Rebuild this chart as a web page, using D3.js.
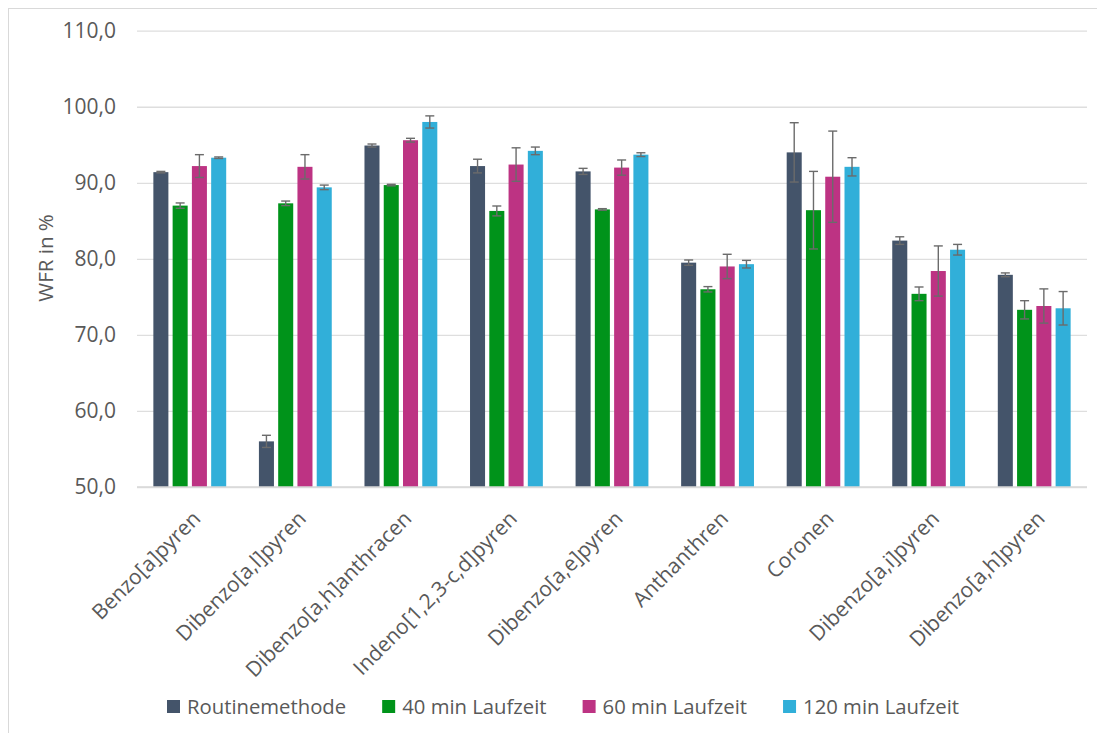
<!DOCTYPE html>
<html>
<head>
<meta charset="utf-8">
<script src="https://cdn.jsdelivr.net/npm/d3@7/dist/d3.min.js"></script>
<style>
  html, body { margin: 0; padding: 0; background: #fff; }
  svg { display: block; }
  text { font-family: "Open Sans", "Noto Sans", sans-serif; fill: #595959; }
</style>
</head>
<body>
<svg id="chart" width="1097" height="733"></svg>
<script>
// PAH recovery rates (WFR) per method, with standard deviations
const categories = [
  "Benzo[a]pyren", "Dibenzo[a,l]pyren", "Dibenzo[a,h]anthracen",
  "Indeno[1,2,3-c,d]pyren", "Dibenzo[a,e]pyren", "Anthanthren",
  "Coronen", "Dibenzo[a,i]pyren", "Dibenzo[a,h]pyren"
];
const seriesNames = ["Routinemethode", "40 min Laufzeit", "60 min Laufzeit", "120 min Laufzeit"];
const seriesColors = ["#44546a", "#00931a", "#bd3383", "#31afd9"];

const routine    = [91.4, 56.0, 94.9, 92.2, 91.5, 79.5, 94.0, 82.4, 77.9];
const routineErr = [0.1, 0.8, 0.2, 0.9, 0.4, 0.35, 3.9, 0.5, 0.25];
const min40      = [87.0, 87.3, 89.7, 86.3, 86.5, 76.0, 86.4, 75.4, 73.3];
const min40Err   = [0.35, 0.3, 0.1, 0.65, 0.1, 0.35, 5.1, 0.9, 1.2];
const min60      = [92.2, 92.1, 95.6, 92.4, 92.0, 79.0, 90.8, 78.4, 73.8];
const min60Err   = [1.5, 1.6, 0.25, 2.2, 1.0, 1.6, 6.0, 3.3, 2.25];
const min120     = [93.3, 89.4, 98.0, 94.2, 93.7, 79.3, 92.1, 81.2, 73.5];
const min120Err  = [0.1, 0.3, 0.8, 0.5, 0.25, 0.5, 1.2, 0.7, 2.2];

const yTicks = [50, 60, 70, 80, 90, 100, 110];

const values = [routine, min40, min60, min120];
const errors = [routineErr, min40Err, min60Err, min120Err];

const svg = d3.select("#chart");
const W = 1097, H = 733;
const plot = { left: 137, right: 1087, top: 30.7, bottom: 487 };

// outer chart frame (top and left edges)
svg.append("line").attr("x1", 8).attr("x2", W).attr("y1", 8.5).attr("y2", 8.5)
  .attr("stroke", "#d9d9d9").attr("stroke-width", 1);
svg.append("line").attr("x1", 8.5).attr("x2", 8.5).attr("y1", 8).attr("y2", H)
  .attr("stroke", "#d9d9d9").attr("stroke-width", 1);

const x = d3.scaleBand().domain(categories)
  .range([plot.left, plot.right]).paddingInner(0.31).paddingOuter(0.155);
const xs = d3.scaleBand().domain(seriesNames)
  .range([0, x.bandwidth()]).paddingInner(0.22).paddingOuter(0);
const y = d3.scaleLinear().domain([50, 110]).range([plot.bottom, plot.top]);

// gridlines and value axis
const yAxis = d3.axisLeft(y).tickValues(yTicks)
  .tickSize(-(plot.right - plot.left))
  .tickPadding(21)
  .tickFormat(d => d3.format(".1f")(d).replace(".", ","));
const gy = svg.append("g").attr("transform", `translate(${plot.left},0)`).call(yAxis);
gy.select(".domain").remove();
gy.selectAll(".tick line").attr("stroke", "#dedede").attr("stroke-width", 1.3);
gy.selectAll(".tick text").attr("font-size", 21).attr("fill", "#595959")
  .attr("font-family", "'Open Sans', sans-serif");

// bars
const groups = svg.append("g").selectAll("g").data(categories).join("g")
  .attr("transform", c => `translate(${x(c)},0)`);

seriesNames.forEach((s, si) => {
  groups.append("rect")
    .attr("x", xs(s))
    .attr("width", xs.bandwidth())
    .attr("y", (c, ci) => y(values[si][ci]))
    .attr("height", (c, ci) => y(50) - y(values[si][ci]))
    .attr("fill", seriesColors[si]);
});

// error bars
seriesNames.forEach((s, si) => {
  const cx = xs(s) + xs.bandwidth() / 2;
  const eb = groups.append("g").attr("stroke", "#6b6b6b").attr("stroke-width", 1.4);
  eb.append("line").attr("x1", cx).attr("x2", cx)
    .attr("y1", (c, ci) => y(values[si][ci] + errors[si][ci]))
    .attr("y2", (c, ci) => y(values[si][ci] - errors[si][ci]));
  eb.append("line").attr("x1", cx - 4.5).attr("x2", cx + 4.5)
    .attr("y1", (c, ci) => y(values[si][ci] + errors[si][ci]))
    .attr("y2", (c, ci) => y(values[si][ci] + errors[si][ci]));
  eb.append("line").attr("x1", cx - 4.5).attr("x2", cx + 4.5)
    .attr("y1", (c, ci) => y(values[si][ci] - errors[si][ci]))
    .attr("y2", (c, ci) => y(values[si][ci] - errors[si][ci]));
});

// baseline
svg.append("line").attr("x1", plot.left).attr("x2", plot.right)
  .attr("y1", plot.bottom).attr("y2", plot.bottom)
  .attr("stroke", "#d9d9d9").attr("stroke-width", 1.3);

// rotated category labels
svg.append("g").selectAll("text").data(categories).join("text")
  .attr("transform", c => `translate(${x(c) + x.bandwidth() / 2 + 12},520) rotate(-45)`)
  .attr("text-anchor", "end")
  .attr("font-size", 21)
  .text(c => c);

// value axis title
svg.append("text")
  .attr("transform", "translate(53,258) rotate(-90)")
  .attr("text-anchor", "middle")
  .attr("font-size", 20.5)
  .text("WFR in %");

// legend
const legend = svg.append("g");
let lx = 167;
seriesNames.forEach((s, si) => {
  legend.append("rect").attr("x", lx).attr("y", 700).attr("width", 13).attr("height", 13)
    .attr("fill", seriesColors[si]);
  const t = legend.append("text").attr("x", lx + 20).attr("y", 714)
    .attr("font-size", 20.3).text(s);
  lx += 20 + t.node().getComputedTextLength() + 36;
});
</script>
</body>
</html>
